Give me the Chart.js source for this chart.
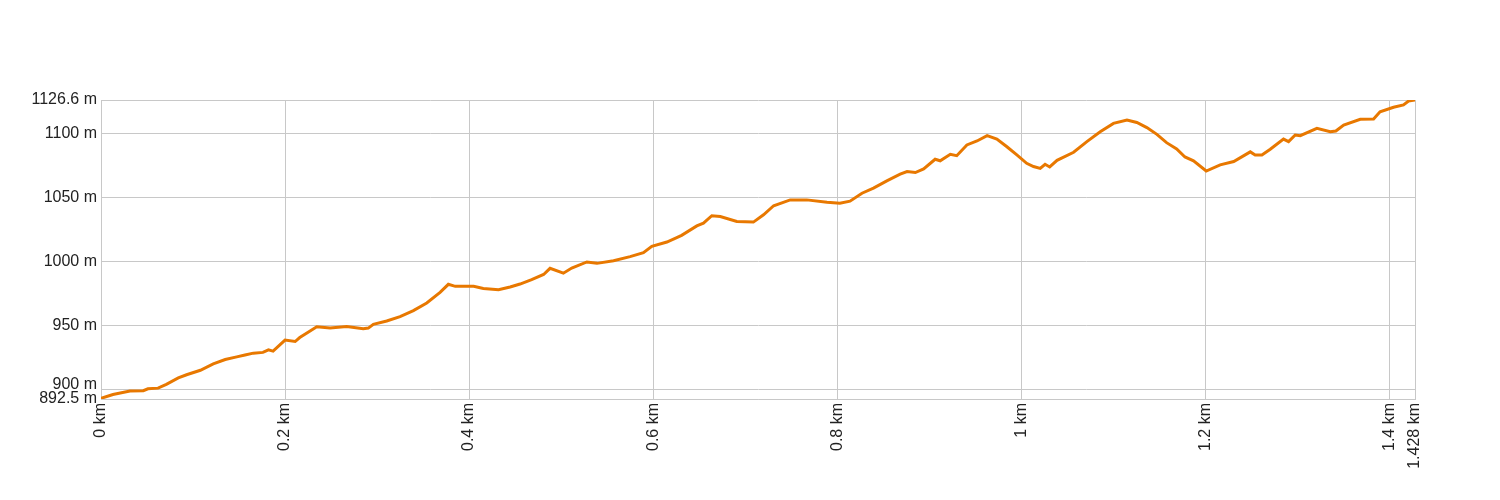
<!DOCTYPE html>
<html>
<head>
<meta charset="utf-8">
<script src="https://cdn.jsdelivr.net/npm/chart.js@4"></script>
<style>
  html, body { margin: 0; padding: 0; background: #fff; }
  #chart-container { width: 1500px; height: 500px; }
</style>
</head>
<body>
<div id="chart-container"><canvas id="myChart"></canvas></div>
<script>
// distance along the track (km) and elevation (m)
var distKm = [0, 0.013, 0.0315, 0.046, 0.051, 0.062, 0.071, 0.084, 0.093, 0.108,
    0.122, 0.135, 0.1475, 0.1565, 0.1655, 0.176, 0.182, 0.187, 0.2, 0.211,
    0.216, 0.2255, 0.2345, 0.249, 0.267, 0.285, 0.2905, 0.296, 0.3105, 0.325,
    0.3395, 0.354, 0.3685, 0.3775, 0.385, 0.405, 0.4155, 0.432, 0.4446, 0.4554,
    0.468, 0.481, 0.488, 0.5025, 0.5116, 0.528, 0.539, 0.557, 0.575, 0.5895,
    0.5986, 0.615, 0.631, 0.6475, 0.6547, 0.6638, 0.673, 0.691, 0.709, 0.72,
    0.731, 0.749, 0.767, 0.789, 0.803, 0.814, 0.827, 0.8395, 0.854, 0.8685,
    0.876, 0.885, 0.894, 0.9065, 0.912, 0.923, 0.93, 0.941, 0.952, 0.963,
    0.9736, 0.9845, 0.9953, 1.006, 1.0134, 1.0207, 1.026, 1.031, 1.039, 1.057,
    1.0714, 1.0859, 1.1003, 1.115, 1.1257, 1.1366, 1.1475, 1.158, 1.169, 1.178,
    1.1873, 1.2011, 1.2163, 1.231, 1.249, 1.2543, 1.2616, 1.2707, 1.2851, 1.2906,
    1.2978, 1.3033, 1.3214, 1.3359, 1.342, 1.3505, 1.3685, 1.383, 1.39, 1.4047,
    1.4155, 1.421, 1.428]
var elevM = [893, 896, 898.7, 899, 900.5, 901, 904, 909, 911.5, 915,
    920, 923.4, 925.5, 927, 928.4, 929, 931, 930, 938.6, 937.5,
    940.6, 945, 949, 948, 949.2, 947.6, 948, 951, 953.6, 957,
    961.7, 967.7, 976, 982.3, 980.7, 980.7, 979, 978, 980.2, 982.5,
    986, 990, 994.8, 991, 995, 999.8, 998.7, 1000.8, 1004, 1007,
    1012, 1015.4, 1020.6, 1028, 1030.2, 1036, 1035.4, 1031.5, 1031, 1036.7,
    1043.8, 1048.4, 1048.4, 1046.6, 1045.8, 1047.4, 1053.6, 1057.6, 1063.3, 1068.5,
    1070.6, 1069.8, 1072.6, 1080.2, 1079, 1084.1, 1083, 1091.4, 1094.5, 1098.7,
    1096, 1090, 1083.6, 1077, 1074.5, 1073, 1076.3, 1074.2, 1079.4, 1085.7,
    1094, 1101.8, 1108.3, 1111, 1109, 1105, 1099.7, 1093.2, 1088.3, 1082,
    1079, 1071, 1075.8, 1078.4, 1086, 1083.6, 1083.6, 1088, 1096, 1094,
    1099.2, 1098.7, 1104.4, 1101.8, 1102.3, 1107, 1111.5, 1111.7, 1117.4, 1120.9,
    1122.7, 1125.8, 1126.6]

var xTickValues = [0, 0.2, 0.4, 0.6, 0.8, 1, 1.2, 1.4, 1.428]
var xTickLabels = ["0 km", "0.2 km", "0.4 km", "0.6 km", "0.8 km", "1 km", "1.2 km", "1.4 km", "1.428 km"]
var yTickValues = [892.5, 900, 950, 1000, 1050, 1100, 1126.6]
var yTickLabels = ["892.5 m", "900 m", "950 m", "1000 m", "1050 m", "1100 m", "1126.6 m"]

function buildPoints () {
    var points = []
    for (var i = 0; i < distKm.length; i++)
    {
        points.push({ x: distKm[i], y: elevM[i] })
    }
    return points
}

var gridColor = '#c8c8c8'
var textColor = '#222'

const ctx = document.getElementById('myChart');
const myChart = new Chart(ctx, {
    type: 'line',
    data: {
        datasets: [{
            data: buildPoints(),
            borderColor: '#e87800',
            borderWidth: 3,
            pointRadius: 0,
            tension: 0,
            fill: false
        }]
    },
    options: {
        responsive: true,
        maintainAspectRatio: false,
        animation: false,
        layout: {
            padding: { left: 0, top: 100, right: 85, bottom: 0 }
        },
        scales: {
            x: {
                type: 'linear',
                min: 0,
                max: 1.428,
                afterBuildTicks: function (scale) {
                    scale.ticks = xTickValues.map(function (v) { return { value: v } })
                },
                afterFit: function (scale) { scale.height = 101 },
                grid: { color: gridColor, drawTicks: false },
                border: { color: gridColor },
                ticks: {
                    autoSkip: false,
                    maxRotation: 90,
                    minRotation: 90,
                    padding: 4,
                    color: textColor,
                    font: { family: 'Liberation Sans, Arial, sans-serif', size: 16 },
                    callback: function (value, index) { return xTickLabels[index] }
                }
            },
            y: {
                min: 892.5,
                max: 1126.6,
                afterBuildTicks: function (scale) {
                    scale.ticks = yTickValues.map(function (v) { return { value: v } })
                },
                afterFit: function (scale) { scale.width = 101 },
                grid: { color: gridColor, drawTicks: false },
                border: { color: gridColor },
                ticks: {
                    autoSkip: false,
                    padding: 4,
                    color: textColor,
                    font: { family: 'Liberation Sans, Arial, sans-serif', size: 16, lineHeight: 0.6 },
                    callback: function (value, index) {
                        // nudge the 900 m label up a little so it clears 892.5 m
                        if (index == 1) return [yTickLabels[index], '']
                        return yTickLabels[index]
                    }
                }
            }
        },
        plugins: {
            legend: { display: false },
            tooltip: { enabled: false }
        }
    }
});
</script>
</body>
</html>
